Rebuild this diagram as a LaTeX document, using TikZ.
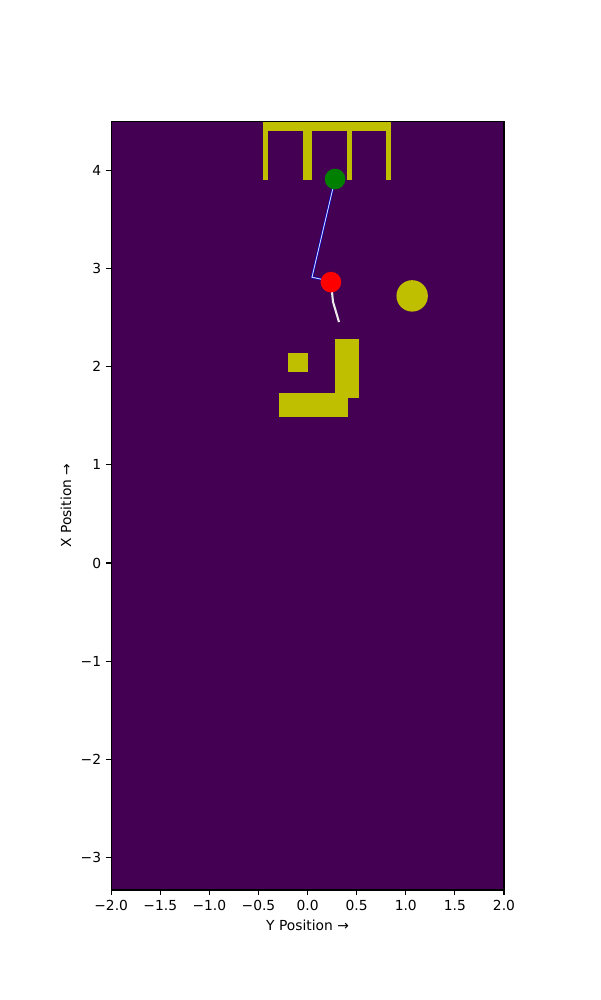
\documentclass[tikz,border=0pt]{standalone}
\usepackage{fontspec}
\setmainfont{DejaVu Sans}
\definecolor{mapbg}{HTML}{440154}
\definecolor{obst}{rgb}{0.75,0.75,0}
\definecolor{startc}{HTML}{008000}
\tikzset{
  obstacle/.style={fill=obst},
  tick/.style={line width=0.8pt},
  ticklab/.style={inner sep=0pt}
}
\begin{document}
\begin{tikzpicture}[x=2.494cm,y=2.494cm,font=\fontsize{10}{12}\selectfont]
\useasboundingbox (-3.132,-4.450) rectangle (2.978,5.733);
\fill[mapbg] (-2,-3.33) rectangle (2,4.5);

% obstacles
\fill[obstacle] (-0.45,4.4) rectangle (0.85,4.5);
\foreach \a/\b in {-0.45/-0.40,-0.05/0.045,0.40/0.45,0.80/0.85}
  \fill[obstacle] (\a,3.9) rectangle (\b,4.4);
\fill[obstacle] (-0.2,1.94) rectangle (0,2.14);
\fill[obstacle] (0.28,1.68) rectangle (0.52,2.28);
\fill[obstacle] (-0.29,1.49) rectangle (0.41,1.73);
\fill[obstacle] (1.065,2.72) circle (0.16);

% robot path
\coordinate (goal) at (0.28,3.91);
\coordinate (robot) at (0.238,2.86);
\coordinate (p1) at (0.045,2.91);
\coordinate (p2) at (0.136,2.89);
\coordinate (q1) at (0.259,2.66);
\coordinate (q2) at (0.32,2.454);
\draw[blue!70!black, double=blue!20!white, double distance=0.7pt, line width=0.5pt] (goal) -- (p1) -- (p2) -- (robot);
\draw[white!85!gray, line width=1.5pt] (robot) -- (q1) -- (q2);
\fill[startc] (goal) circle (0.105);
\fill[red] (robot) circle (0.105);

% axes
\draw[line width=0.8pt] (-2,-3.33) rectangle (2,4.5);
\foreach \x/\lab in {-2/−2.0,-1.5/−1.5,-1/−1.0,-0.5/−0.5,0/0.0,0.5/0.5,1/1.0,1.5/1.5,2/2.0}
{
  \draw[tick] (\x,-3.33) -- (\x,-3.38);
  \node[ticklab, below] (xt\x) at (\x,-3.43) {\lab};
}
\foreach \y/\lab in {-3/−3,-2/−2,-1/−1,0/0,1/1,2/2,3/3,4/4}
{
  \draw[tick] (-2,\y) -- (-2.05,\y);
  \node[ticklab, left] (yt\y) at (-2.1,\y) {\lab};
}
\node (xlab) at (0,-3.69) {Y Position →};
\node[rotate=90] (ylab) at (-2.46,0.585) {X Position →};
\end{tikzpicture}
\end{document}
